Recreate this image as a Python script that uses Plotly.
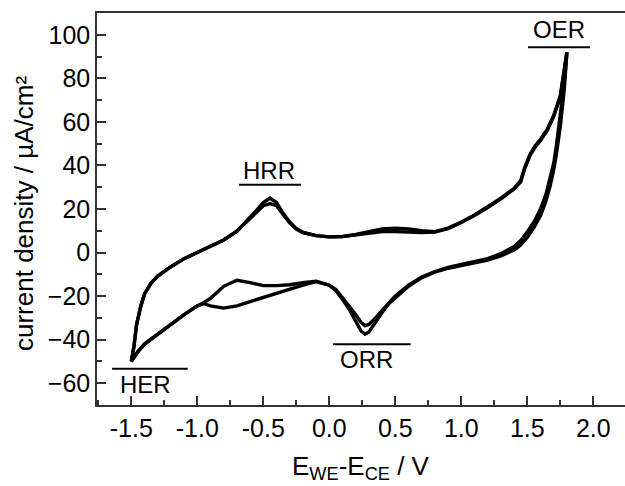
import plotly.graph_objects as go

# anodic sweep (from -1.5 V up to 1.8 V)
x_anodic = [-1.50, -1.48, -1.46, -1.43, -1.40, -1.35, -1.30, -1.20, -1.10, -1.00,
            -0.90, -0.80, -0.70, -0.60, -0.55, -0.50, -0.45, -0.40, -0.35, -0.30,
            -0.25, -0.20, -0.10, 0.00, 0.10, 0.20, 0.30, 0.40, 0.50, 0.60,
            0.70, 0.80, 0.90, 1.00, 1.10, 1.20, 1.30, 1.40, 1.45, 1.48,
            1.52, 1.56, 1.60, 1.65, 1.70, 1.75, 1.80]
y_anodic_1 = [-50, -43, -33, -25, -19, -14, -10.8, -6.5, -2.8, 0,
              2.8, 5.8, 9.8, 16, 19.5, 23, 25, 23, 18, 14,
              11, 9.3, 7.8, 7.2, 7.4, 8.3, 9.6, 10.8, 11.2, 10.8,
              10, 9.6, 11.2, 14, 17.3, 21, 25, 29.5, 33, 39,
              45, 49, 52, 56.5, 63, 72, 92]
y_anodic_2 = [-50, -43, -33, -25, -19, -14, -10.8, -6.5, -2.8, 0,
              2.8, 5.8, 9.8, 15.5, 18.8, 21.5, 22.5, 21.5, 17.5, 13.6,
              10.8, 9.2, 7.8, 7.2, 7.3, 8.0, 8.8, 9.6, 9.6, 9.4,
              9.2, 9.4, 11.0, 13.8, 17.0, 20.7, 24.7, 29.2, 32.5, 38.5,
              44.5, 48.5, 51.5, 56, 62.5, 71.5, 92]

# cathodic sweep (from 1.8 V back down to -1.5 V)
x_cathodic = [1.80, 1.78, 1.75, 1.72, 1.70, 1.67, 1.64, 1.60, 1.55, 1.50,
              1.45, 1.40, 1.30, 1.20, 1.10, 1.00, 0.90, 0.80, 0.70, 0.60,
              0.50, 0.45, 0.40, 0.35, 0.30, 0.27, 0.24, 0.20, 0.15, 0.10,
              0.05, 0.00, -0.10, -0.20, -0.30, -0.40, -0.50, -0.60, -0.70, -0.80,
              -0.90, -0.95, -1.00, -1.10, -1.20, -1.30, -1.40, -1.45, -1.50]
y_cathodic_1 = [92, 75, 58, 45, 38, 30, 23.5, 17, 11.5, 7,
                3.5, 1.2, -1.5, -3.5, -4.8, -6, -7.2, -9, -11.5, -15.5,
                -20.5, -23.5, -27.5, -32, -36.5, -37.5, -36, -31.5, -26, -21.5,
                -17.5, -15, -13.2, -13.8, -14.8, -15.2, -15.2, -13.8, -12.7, -15.5,
                -21, -23, -24.5, -28.5, -33, -37.5, -42, -45.5, -50]
y_cathodic_2 = [92, 78, 62, 49, 41, 33, 26.5, 20, 14, 9.5,
                5.5, 2.8, -0.5, -2.8, -4.3, -5.5, -6.8, -8.7, -11.2, -15,
                -20, -23, -26.5, -30, -33, -33.5, -32, -28.5, -24.5, -20.5,
                -17, -15, -13.3, -15, -16.8, -18.5, -20.5, -22.5, -24.5, -25.5,
                -24.5, -23.5, -24.5, -28.5, -33, -37.5, -42, -45.5, -50]

x_ticks = [-1.5, -1.0, -0.5, 0.0, 0.5, 1.0, 1.5, 2.0]
y_ticks = [-60, -40, -20, 0, 20, 40, 60, 80, 100]

labels = ["HRR", "OER", "ORR", "HER"]
label_x = [-0.457, 1.74, 0.278, -1.392]
label_y = [37.6, 102.4, -49.3, -60.8]
bar_x0 = [-0.684, 1.505, 0.028, -1.646]
bar_x1 = [-0.214, 1.975, 0.617, -1.073]
bar_y = [31.1, 94.3, -42.1, -53.3]

FONT = "Liberation Sans, Arial, sans-serif"

fig = go.Figure()
for ya, yc in [(y_anodic_1, y_cathodic_1), (y_anodic_2, y_cathodic_2)]:
    fig.add_trace(go.Scatter(
        x=x_anodic + x_cathodic[1:], y=ya + yc[1:], mode="lines",
        line=dict(color="black", width=3.4), showlegend=False, hoverinfo="skip"))

for t, tx, ty in zip(labels, label_x, label_y):
    fig.add_annotation(x=tx, y=ty, xref="x", yref="y", text=t, showarrow=False,
                       font=dict(family=FONT, size=24, color="black"),
                       xanchor="center", yanchor="middle")
for x0, x1, yb in zip(bar_x0, bar_x1, bar_y):
    fig.add_shape(type="line", xref="x", yref="y", x0=x0, x1=x1, y0=yb, y1=yb,
                  line=dict(color="black", width=2))

fig.add_annotation(xref="paper", yref="paper", x=0, y=0.5, xshift=-73, yshift=-5,
                   text="current density / µA/cm²", textangle=-90, showarrow=False,
                   font=dict(family=FONT, size=26, color="black"),
                   xanchor="center", yanchor="middle")
fig.add_annotation(xref="paper", yref="paper", x=0.5, y=0, yshift=-44,
                   text="E<sub>WE</sub>-E<sub>CE</sub> / V", showarrow=False,
                   font=dict(family=FONT, size=26, color="black"),
                   xanchor="center", yanchor="top")

axis_common = dict(showgrid=False, zeroline=False, showline=True, linecolor="#333",
                   linewidth=1.5, ticks="inside", ticklen=9, tickwidth=1.5,
                   tickcolor="#333", tickfont=dict(family=FONT, size=25, color="black"))
fig.update_xaxes(range=[-1.76, 2.24], tickvals=x_ticks,
                 ticktext=[f"{v:.1f}" for v in x_ticks], mirror=True,
                 minor=dict(ticks="inside", ticklen=5, tickwidth=1.5, tickcolor="#333",
                            dtick=0.25, tick0=0), **axis_common)
fig.update_yaxes(range=[-70, 110], tickvals=y_ticks,
                 minor=dict(ticks="inside", ticklen=5, tickwidth=1.5, tickcolor="#333",
                            dtick=10, tick0=0), **axis_common)

fig.update_layout(width=625, height=486, margin=dict(l=97, r=0, t=13, b=81),
                  plot_bgcolor="white", paper_bgcolor="white")
fig.write_html("out.html", config={"displayModeBar": False},
               post_script="document.body.style.margin='0';document.body.style.overflow='hidden';")
